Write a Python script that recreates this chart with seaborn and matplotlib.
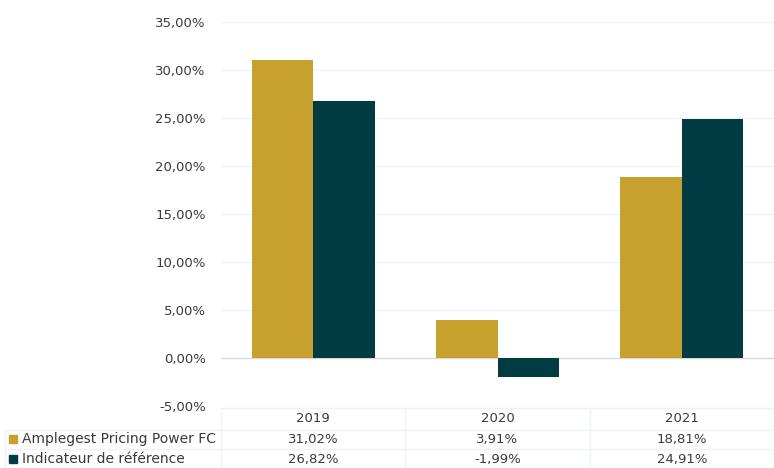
import numpy as np
import pandas as pd
import seaborn as sns
import matplotlib.pyplot as plt
from matplotlib.transforms import blended_transform_factory
from matplotlib.patches import Rectangle

years = ["2019", "2020", "2021"]
series_names = ["Amplegest Pricing Power FC", "Indicateur de référence"]
fund_values = [31.02, 3.91, 18.81]
bench_values = [26.82, -1.99, 24.91]
colors = ["#C8A02D", "#023C43"]
yticks = [-5, 0, 5, 10, 15, 20, 25, 30, 35]


def fr_pct(v):
    return f"{v:.2f}%".replace(".", ",")


df = pd.DataFrame({
    "year": years * 2,
    "series": [series_names[0]] * 3 + [series_names[1]] * 3,
    "value": fund_values + bench_values,
})

sns.set_style("white")
plt.rcParams["font.family"] = ["DejaVu Sans"]
text_col = "#3A3A3A"
grid_col = "#EDF2F4"

fig = plt.figure(figsize=(7.74, 4.68), dpi=100)
ax = fig.add_axes([221 / 774, 1 - 406 / 468, 1 - 221 / 774, 384 / 468])

sns.barplot(data=df, x="year", y="value", hue="series", palette=colors,
            width=0.667, saturation=1, ax=ax, legend=False, edgecolor="none")

ax.set_xlim(-0.5, 2.5)
ax.set_ylim(-5, 35)
ax.set_yticks(yticks)
ax.set_yticklabels([fr_pct(t) for t in yticks], color=text_col, fontsize=9.5)
ax.tick_params(axis="y", length=0, pad=11)
ax.set_xticks([])
ax.set_xlabel("")
ax.set_ylabel("")
for s in ax.spines.values():
    s.set_visible(False)
for t in yticks:
    ax.axhline(t, color="#D9D9D9" if t == 0 else grid_col, lw=1, zorder=0)

# data table under the chart
tr = blended_transform_factory(ax.transData, fig.transFigure)
fy = lambda py: 1 - py / 468
bounds = [-0.5, 0.5, 1.5, 2.5]

# horizontal lines
ax.plot([-0.5, 2.5], [fy(408)] * 2, transform=tr, color=grid_col, lw=1, clip_on=False)
for py in [430, 449]:
    fig.add_artist(plt.Line2D([5 / 774, 1], [fy(py)] * 2, color=grid_col, lw=1))
# vertical lines
for b in bounds:
    ax.plot([b, b], [fy(408), 0], transform=tr, color=grid_col, lw=1, clip_on=False)
fig.add_artist(plt.Line2D([5 / 774, 5 / 774], [fy(430), 0], color=grid_col, lw=1))

for i, yr in enumerate(years):
    ax.text(i, fy(418), yr, transform=tr, ha="center", va="center",
            fontsize=9.5, color=text_col)
    ax.text(i, fy(439), fr_pct(fund_values[i]), transform=tr, ha="center",
            va="center", fontsize=9.5, color=text_col)
    ax.text(i, fy(459), fr_pct(bench_values[i]), transform=tr, ha="center",
            va="center", fontsize=9.5, color=text_col)

for name, col, py in zip(series_names, colors, [439, 459]):
    fig.add_artist(Rectangle((9 / 774, fy(py + 4)), 8 / 774, 8 / 468,
                             transform=fig.transFigure, color=col))
    fig.text(22 / 774, fy(py), name, ha="left", va="center",
             fontsize=10, color=text_col)

fig.savefig("out.png", dpi=100)
